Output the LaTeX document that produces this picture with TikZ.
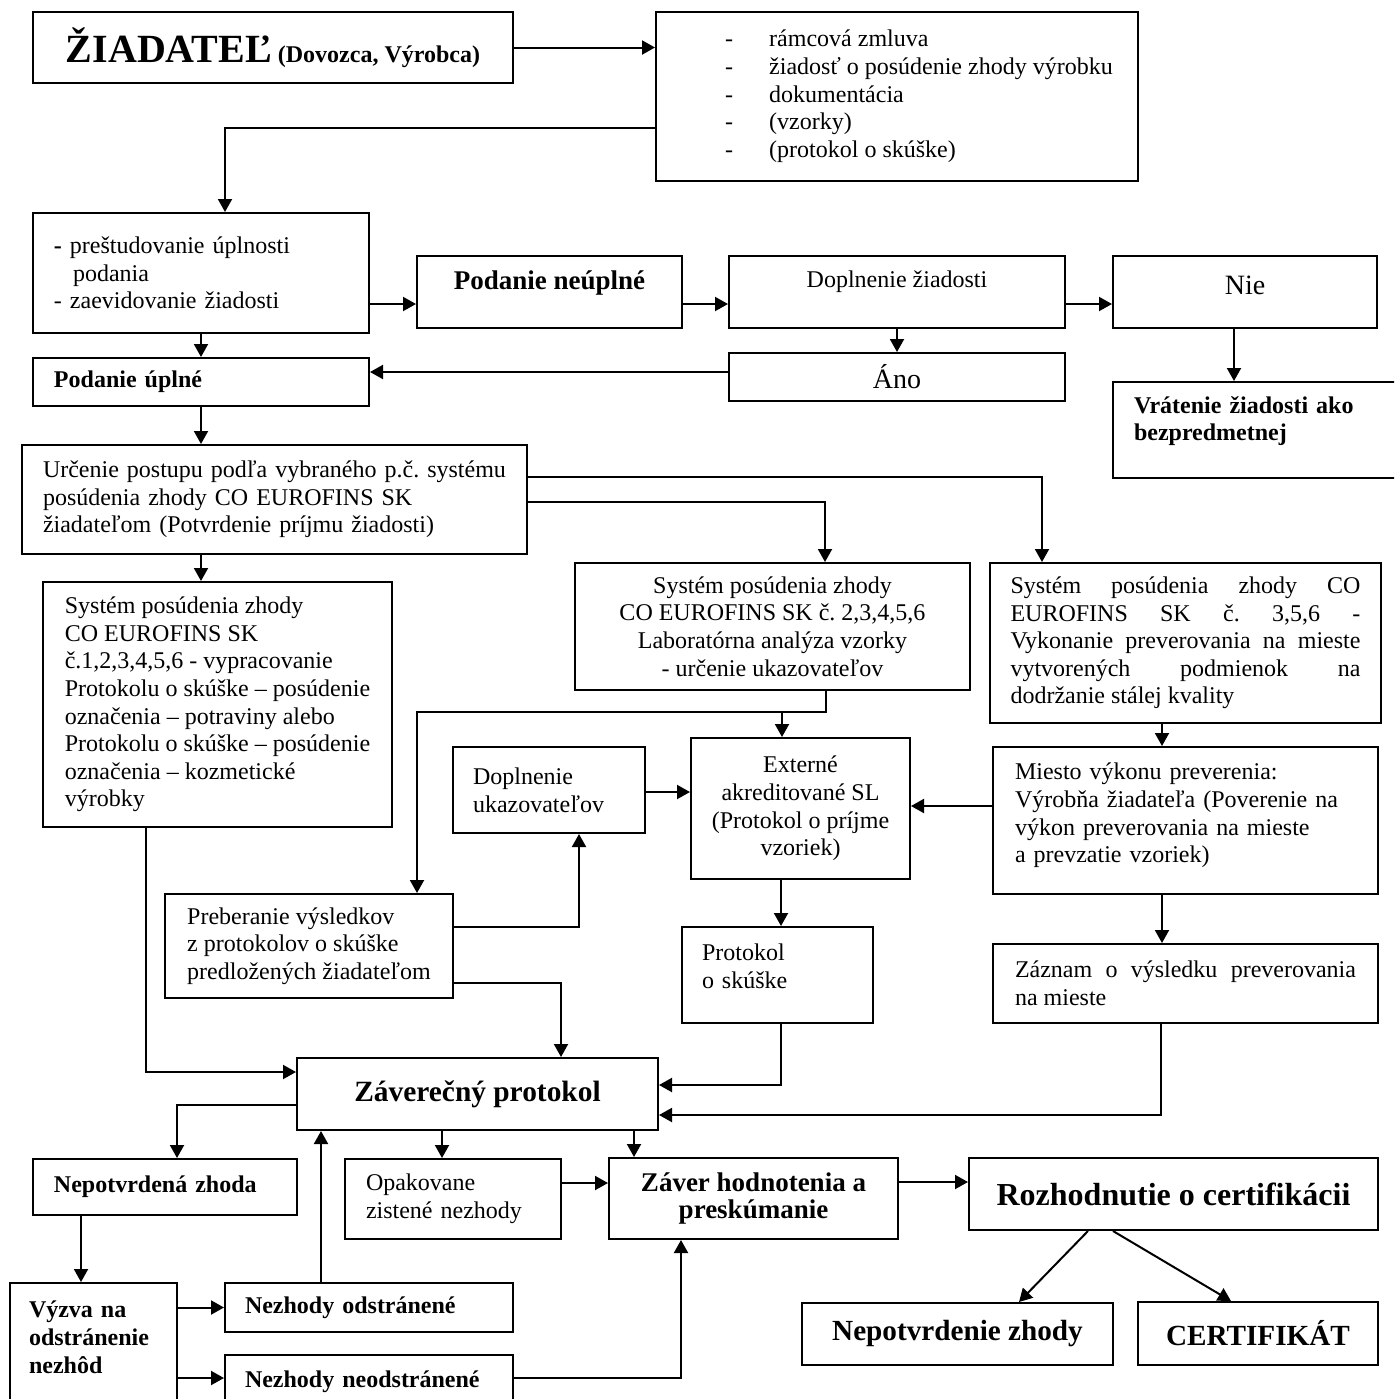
\documentclass[tikz,border=0pt]{standalone}
\usepackage{fontspec}
\setmainfont{Liberation Serif}
\usetikzlibrary{arrows.meta}
\frenchspacing

\newcommand{\lowstrut}[1]{\rule[-#1]{0pt}{#1}}

\tikzset{
  box/.style={draw, line width=1pt, inner ysep=0pt, font=\fontsize{12}{13.8}\selectfont},
  arr/.style={line width=1pt, -{Triangle[length=6.5pt, width=7pt]}},
}

\begin{document}
\begin{tikzpicture}[x=0.5pt, y=-0.5pt]
  \useasboundingbox (0,0) rectangle (1394,1399);
  \clip (0,0) rectangle (1394,1399);
  \fill[white] (0,0) rectangle (1394,1399);

  % ziadatel a podklady
  \node[box, minimum width=240pt, minimum height=35.5pt] (zia) at (273,47.5)
    {{\fontsize{20}{24}\selectfont\bfseries ŽIADATEĽ} \textbf{(Dovozca, Výrobca)}};
  \node[box, minimum width=241pt, minimum height=84.5pt] (docs) at (897,96.5)
    {\begin{tabular}{@{\hspace{22pt}}p{22pt}@{}l@{}}
      - & rámcová zmluva\\
      - & žiadosť o posúdenie zhody výrobku\\
      - & dokumentácia\\
      - & (vzorky)\\
      - & (protokol o skúške)
    \end{tabular}};

  % kontrola podania
  \node[box, minimum width=168pt, minimum height=60pt, text width=147pt, inner xsep=10.5pt, align=left] (prestud) at (201,273)
    {\textbf{-} preštudovanie úplnosti\\\hspace*{9.5pt}podania\\- zaevidovanie žiadosti};
  \node[box, minimum width=132.5pt, minimum height=36pt, font=\fontsize{13.5}{15}\selectfont\bfseries] (neuplne) at (549.5,292)
    {Podanie neúplné\lowstrut{12pt}};
  \node[box, minimum width=168pt, minimum height=36pt] (dopl) at (897,292)
    {Doplnenie žiadosti\lowstrut{12.6pt}};
  \node[box, minimum width=132pt, minimum height=36pt, font=\fontsize{14}{16}\selectfont] (nie) at (1245,292)
    {Nie\lowstrut{7pt}};
  \node[box, minimum width=168pt, minimum height=24pt, text width=147pt, inner xsep=10.5pt, align=left, font=\fontsize{12}{13.8}\selectfont\bfseries] (uplne) at (201,382)
    {Podanie úplné};
  \node[box, minimum width=168pt, minimum height=24pt, font=\fontsize{14}{16}\selectfont] (ano) at (897,377)
    {Áno};
  \node[box, minimum width=143.5pt, minimum height=48pt, text width=122.5pt, inner xsep=10.5pt, align=left, font=\fontsize{12}{13.5}\selectfont\bfseries] (vrat) at (1256.5,430)
    {Vrátenie žiadosti ako\\bezpredmetnej\lowstrut{11.6pt}};

  % systemy posudenia zhody
  \node[box, minimum width=252.5pt, minimum height=54.5pt, text width=231.5pt, inner xsep=10.5pt, align=left] (urc) at (274.5,499.5)
    {Určenie postupu podľa vybraného p.č. systému\\posúdenia zhody CO EUROFINS SK\\žiadateľom (Potvrdenie príjmu žiadosti)};
  \node[box, minimum width=174.5pt, minimum height=122.5pt, align=left] (sys1) at (217.5,704.5)
    {Systém posúdenia zhody\\CO EUROFINS SK\\č.1,2,3,4,5,6 - vypracovanie\\Protokolu o skúške – posúdenie\\označenia – potraviny alebo\\Protokolu o skúške – posúdenie\\označenia – kozmetické\\výrobky};
  \node[box, minimum width=197.5pt, minimum height=63.5pt, align=center] (sys2) at (772.5,626.5)
    {Systém posúdenia zhody\\CO EUROFINS SK č. 2,3,4,5,6\\Laboratórna analýza vzorky\\- určenie ukazovateľov};
  \node[box, minimum width=195.5pt, minimum height=80pt, text width=175pt, inner xsep=10.25pt, align=justify] (sys3) at (1185.5,643)
    {Systém posúdenia zhody CO\linebreak EUROFINS SK č. 3,5,6 -\linebreak Vykonanie preverovania na mieste\linebreak vytvorených podmienok na\linebreak dodržanie stálej kvality};

  % laboratorium a preverenie
  \node[box, minimum width=109.5pt, minimum height=70.5pt, align=center] (ext) at (800.5,808.5)
    {Externé\\akreditované SL\\(Protokol o príjme\\vzoriek)};
  \node[box, minimum width=96pt, minimum height=43pt, text width=76pt, inner xsep=10pt, align=left] (dopu) at (549,790)
    {Doplnenie\\ukazovateľov};
  \node[box, minimum width=192.5pt, minimum height=73.5pt, text width=170.5pt, inner xsep=11pt, align=left] (miesto) at (1185.5,820.5)
    {Miesto výkonu preverenia:\\Výrobňa žiadateľa (Poverenie na\\výkon preverovania na mieste\\a prevzatie vzoriek)\lowstrut{7.6pt}};
  \node[box, minimum width=192.5pt, minimum height=39.5pt, text width=170.5pt, inner xsep=11pt, align=justify] (zaznam) at (1185.5,983.5)
    {Záznam o výsledku preverovania\linebreak na mieste};
  \node[box, minimum width=95.5pt, minimum height=48pt, text width=75.5pt, inner xsep=10pt, align=left] (prot) at (777.5,975)
    {Protokol\\o skúške\lowstrut{9pt}};
  \node[box, minimum width=144pt, minimum height=52pt, align=left] (preb) at (309,946)
    {Preberanie výsledkov\\z protokolov o skúške\\predložených žiadateľom};

  % zaverecny protokol a rozhodnutie
  \node[box, minimum width=180.5pt, minimum height=36pt, font=\fontsize{14.7}{17}\selectfont\bfseries] (zav) at (477.5,1094)
    {Záverečný protokol};
  \node[box, minimum width=132pt, minimum height=28pt, text width=111pt, inner xsep=10.5pt, align=left, font=\fontsize{12}{13.8}\selectfont\bfseries] (nepz) at (165,1187)
    {Nepotvrdená zhoda};
  \node[box, minimum width=108pt, minimum height=40pt, text width=87pt, inner xsep=10.5pt, align=left] (opak) at (453,1199)
    {Opakovane\\zistené nezhody};
  \node[box, minimum width=144.5pt, minimum height=40.5pt, align=center, font=\fontsize{13.5}{13.8}\selectfont\bfseries] (zaver) at (753.5,1198.5)
    {Záver hodnotenia a\\preskúmanie};
  \node[box, minimum width=204.5pt, minimum height=36pt, font=\fontsize{16}{19}\selectfont\bfseries] (rozh) at (1173.5,1194)
    {Rozhodnutie o certifikácii};
  \node[box, minimum width=155.5pt, minimum height=31pt, font=\fontsize{14.6}{17}\selectfont\bfseries] (nepot) at (957.5,1334)
    {Nepotvrdenie zhody};
  \node[box, minimum width=120pt, minimum height=31.5pt, font=\fontsize{14.6}{17}\selectfont\bfseries] (cert) at (1258,1333.5)
    {CERTIFIKÁT};
  \node[box, minimum width=83.5pt, minimum height=61pt, text width=64.5pt, inner xsep=9.5pt, align=left, font=\fontsize{12}{14}\selectfont\bfseries] (vyzva) at (93.5,1344)
    {Výzva na\\odstránenie\\nezhôd\lowstrut{7pt}};
  \node[box, minimum width=144pt, minimum height=24.5pt, text width=124pt, inner xsep=10pt, align=left, font=\fontsize{12}{13.8}\selectfont\bfseries] (odstr) at (369,1307.5)
    {Nezhody odstránené};
  \node[box, minimum width=144pt, minimum height=27pt, text width=124pt, inner xsep=10pt, align=left, font=\fontsize{12}{13.8}\selectfont\bfseries] (neodstr) at (369,1382)
    {Nezhody neodstránené};

  % spojnice
  \draw[arr] (zia.east) -- (zia.east -| docs.west);
  \draw[arr] ([yshift=-15.75pt]docs.west) -| ([xshift=12pt]prestud.north);
  \draw[arr] ([yshift=-15.5pt]prestud.east) -- ([yshift=-15.5pt]prestud.east -| neuplne.west);
  \draw[arr] ([yshift=-6pt]neuplne.east) -- ([yshift=-6pt]dopl.west);
  \draw[arr] ([yshift=-6pt]dopl.east) -- ([yshift=-6pt]nie.west);
  \draw[arr] (dopl.south) -- (ano.north);
  \draw[arr] ([xshift=-5.5pt]nie.south) -- ([xshift=-5.5pt]nie.south |- vrat.north);
  \draw[arr] (prestud.south) -- (uplne.north);
  \draw[arr] ([yshift=2.5pt]ano.west) -- ([yshift=2.5pt]ano.west -| uplne.east);
  \draw[arr] (uplne.south) -- (uplne.south |- urc.north);
  \draw[arr] ([yshift=11.25pt]urc.east) -| ([xshift=-71.75pt]sys3.north);
  \draw[arr] ([yshift=-1.25pt]urc.east) -| ([xshift=26.25pt]sys2.north);
  \draw[arr] (uplne.south |- urc.south) -- (uplne.south |- sys1.north);
  \draw[arr] ([xshift=26.75pt]sys2.south) |- ([yshift=12.5pt]ext.north) -| ([xshift=54pt]preb.north);
  \draw[arr] ([xshift=-9.25pt,yshift=12.5pt]ext.north) -- ([xshift=-9.25pt]ext.north);
  \draw[arr] ([xshift=-11.75pt]sys3.south) -- ([xshift=-11.75pt]miesto.north);
  \draw[arr] ([yshift=7.25pt]miesto.west) -- ([yshift=7.25pt]miesto.west -| ext.east);
  \draw[arr] ([yshift=-1pt]dopu.east) -- ([yshift=-1pt]dopu.east -| ext.west);
  \draw[arr] ([yshift=9.5pt]preb.east) -| ([xshift=15pt]dopu.south);
  \draw[arr] ([yshift=-18.5pt]preb.east) -| ([xshift=41.75pt]zav.north);
  \draw[arr] ([xshift=-9.75pt]ext.south) -- ([xshift=-9.75pt]ext.south |- prot.north);
  \draw[arr] ([xshift=-11.75pt]miesto.south) -- ([xshift=-11.75pt]zaznam.north);
  \draw[arr] ([xshift=-35.75pt]sys1.south) |- ([yshift=11pt]zav.west);
  \draw[arr] ([xshift=1.75pt]prot.south) |- ([yshift=4.5pt]zav.east);
  \draw[arr] ([xshift=-12.25pt]zaznam.south) |- ([yshift=-10.5pt]zav.east);
  \draw[arr] ([yshift=-5.5pt]zav.west) -| ([xshift=6pt]nepz.north);
  \draw[arr] ([xshift=-17.75pt]zav.south) -- ([xshift=-17.75pt]zav.south |- opak.north);
  \draw[arr] ([xshift=78.25pt]zav.south) -- ([xshift=78.25pt]zav.south |- zaver.north);
  \draw[arr] ([yshift=8pt]opak.east) -- ([yshift=8pt]opak.east -| zaver.west);
  \draw[arr] ([yshift=8.25pt]zaver.east) -- ([yshift=8.25pt]zaver.east -| rozh.west);
  \draw[arr] ([xshift=-42.75pt]rozh.south) -- ([xshift=30.75pt]nepot.north);
  \draw[arr] ([xshift=-30.25pt]rozh.south) -- ([xshift=-13.5pt]cert.north);
  \draw[arr] ([xshift=-42pt]nepz.south) -- ([xshift=-42pt]nepz.south |- vyzva.north);
  \draw[arr] (vyzva.east |- odstr.west) -- (odstr.west);
  \draw[arr] ([yshift=2pt]vyzva.east |- neodstr.west) -- ([yshift=2pt]neodstr.west);
  \draw[arr] ([xshift=-24pt]odstr.north) -- ([xshift=-24pt]odstr.north |- zav.south);
  \draw[arr] ([yshift=2pt]neodstr.east) -| ([xshift=-36.25pt]zaver.south);
\end{tikzpicture}
\end{document}
